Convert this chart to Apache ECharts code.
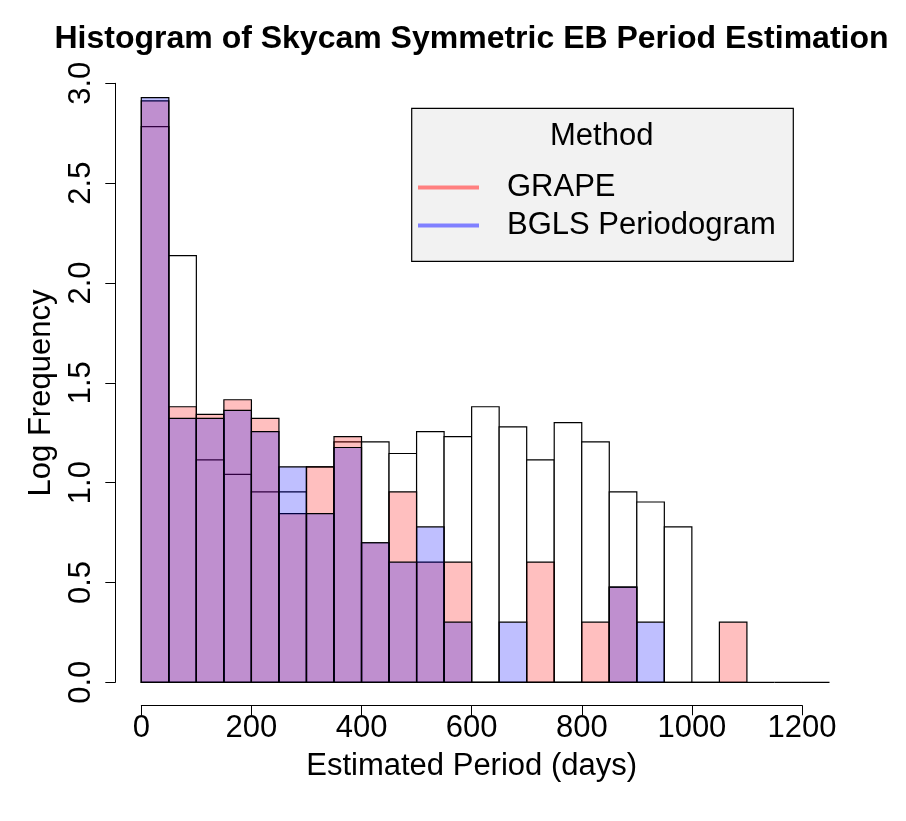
<!DOCTYPE html>
<html>
<head>
<meta charset="utf-8">
<script src="https://cdn.jsdelivr.net/npm/echarts@6/dist/echarts.min.js"></script>
<style>
  html, body { margin: 0; padding: 0; background: #fff; }
  #main { width: 906px; height: 821px; }
</style>
</head>
<body>
<div id="main"></div>
<script>
// histogram bins, 50 days wide
var binEdges = [0, 50, 100, 150, 200, 250, 300, 350, 400, 450, 500, 550, 600,
                650, 700, 750, 800, 850, 900, 950, 1000, 1050, 1100, 1150, 1200, 1250];

// log10 counts per bin
var allLogFreq   = [2.783, 2.137, 1.114, 1.041, 0.954, 0.954, 1.079, 1.204, 1.204, 1.146, 1.255, 1.230,
                    1.380, 1.279, 1.114, 1.301, 1.204, 0.954, 0.903, 0.778, 0, 0, 0, 0, 0];
var grapeLogFreq = [2.912, 1.380, 1.342, 1.415, 1.322, 0.845, 1.079, 1.230, 0.699, 0.954, 0.602, 0.602,
                    0, 0, 0.602, 0, 0.301, 0.477, 0, 0, 0, 0.301];
var bglsLogFreq  = [2.928, 1.322, 1.322, 1.362, 1.255, 1.079, 0.845, 1.176, 0.699, 0.602, 0.778, 0.301,
                    0, 0.301, 0, 0, 0, 0.477, 0.301];

var xTicks = [0, 200, 400, 600, 800, 1000, 1200];
var yTicks = [0, 0.5, 1, 1.5, 2, 2.5, 3];

var FONT = "'Liberation Sans', Arial, sans-serif";

function toBins(vals){
    var out = [];
    for (var i = 0; i < vals.length; i++) {
        out.push([binEdges[i], binEdges[i + 1], vals[i]]);
    }
    return out;
}

function histRenderer(fill){
    return function(params, api){
        var top = api.coord([api.value(0), api.value(2)]);
        var bottom = api.coord([api.value(1), 0]);
        return {
            type: 'rect',
            shape: { x: top[0], y: top[1], width: bottom[0] - top[0], height: bottom[1] - top[1] },
            style: { fill: fill, stroke: '#000', lineWidth: 1.2 }
        };
    };
}

var myChart = echarts.init(document.getElementById('main'));

var option = {
    animation: false,
    backgroundColor: '#fff',
    grid: [
        { left: 141.3, top: 83.3, width: 688.2, height: 599 },   // bars
        { left: 141.3, top: 700, width: 660.7, height: 5.3 },    // x axis (R style, offset)
        { left: 115.3, top: 83.3, width: 10, height: 599 }       // y axis (R style, offset)
    ],
    xAxis: [
        { gridIndex: 0, type: 'value', min: 0, max: 1250, show: false },
        {
            gridIndex: 1, type: 'value', min: xTicks[0], max: xTicks[xTicks.length - 1], interval: 200,
            position: 'bottom',
            axisLine: { show: true, onZero: false, lineStyle: { color: '#000', width: 1 } },
            axisTick: { show: true, length: 10, lineStyle: { color: '#000', width: 1 } },
            axisLabel: {
                fontSize: 31, color: '#000', fontFamily: FONT, margin: 8,
                formatter: function(v){ return String(v); }
            },
            splitLine: { show: false },
            name: 'Estimated Period (days)',
            nameLocation: 'middle',
            nameGap: 46,
            nameTextStyle: { fontSize: 31, color: '#000', fontFamily: FONT }
        },
        { gridIndex: 2, type: 'value', show: false }
    ],
    yAxis: [
        { gridIndex: 0, type: 'value', min: 0, max: 3, show: false },
        { gridIndex: 1, type: 'value', show: false },
        {
            gridIndex: 2, type: 'value', min: yTicks[0], max: yTicks[yTicks.length - 1], interval: 0.5,
            position: 'left',
            axisLine: { show: true, onZero: false, lineStyle: { color: '#000', width: 1 } },
            axisTick: { show: true, length: 10, lineStyle: { color: '#000', width: 1 } },
            axisLabel: {
                fontSize: 31, color: '#000', fontFamily: FONT, rotate: 90, margin: 18,
                formatter: function(v){ return v.toFixed(1); }
            },
            splitLine: { show: false }
        }
    ],
    legend: {
        orient: 'vertical',
        left: 418,
        top: 172,
        padding: 0,
        itemWidth: 61,
        itemHeight: 4,
        itemGap: 7,
        icon: 'rect',
        selectedMode: false,
        z: 5,
        textStyle: { fontSize: 31, color: '#000', fontFamily: FONT, lineHeight: 31, padding: [0, 0, 0, 23] },
        data: [
            { name: 'GRAPE', itemStyle: { color: '#FF8080', borderWidth: 0 } },
            { name: 'BGLS Periodogram', itemStyle: { color: '#8080FF', borderWidth: 0 } }
        ]
    },
    graphic: [
        {
            type: 'text', x: 471.5, y: 39.5, z: 10,
            style: { text: 'Histogram of Skycam Symmetric EB Period Estimation', fill: '#000',
                     font: 'bold 32px ' + FONT, align: 'center', verticalAlign: 'middle' }
        },
        {
            type: 'text', x: 41.7, y: 393, rotation: Math.PI / 2, z: 10,
            style: { text: 'Log Frequency', fill: '#000', font: '31px ' + FONT,
                     align: 'center', verticalAlign: 'middle' }
        },
        {
            type: 'rect', z: 1,
            shape: { x: 411.7, y: 108.3, width: 381.6, height: 153 },
            style: { fill: '#F2F2F2', stroke: '#000', lineWidth: 1.2 }
        },
        {
            type: 'text', x: 601.7, y: 136, z: 10,
            style: { text: 'Method', fill: '#000', font: '31px ' + FONT, align: 'center', verticalAlign: 'middle' }
        }
    ],
    series: [
        {
            name: 'All', type: 'custom', xAxisIndex: 0, yAxisIndex: 0,
            renderItem: histRenderer('#FFFFFF'),
            encode: { x: [0, 1], y: 2 },
            data: toBins(allLogFreq)
        },
        {
            name: 'GRAPE', type: 'custom', xAxisIndex: 0, yAxisIndex: 0,
            renderItem: histRenderer('rgba(255,0,0,0.25)'),
            encode: { x: [0, 1], y: 2 },
            data: toBins(grapeLogFreq)
        },
        {
            name: 'BGLS Periodogram', type: 'custom', xAxisIndex: 0, yAxisIndex: 0,
            renderItem: histRenderer('rgba(0,0,255,0.25)'),
            encode: { x: [0, 1], y: 2 },
            data: toBins(bglsLogFreq)
        }
    ]
};
myChart.setOption(option);
</script>
</body>
</html>
